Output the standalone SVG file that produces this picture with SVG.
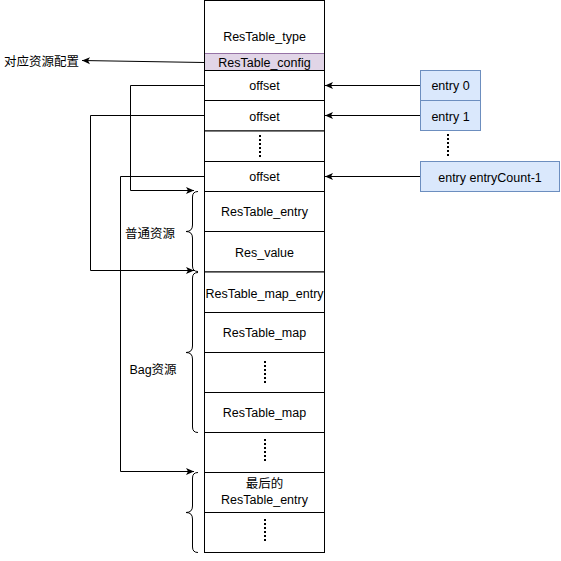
<svg xmlns="http://www.w3.org/2000/svg" width="561" height="561" viewBox="0 0 561 561">
<style>
text{font-family:"Liberation Sans","Noto Sans CJK SC",sans-serif;font-size:12.5px;fill:#000;}
.c{text-anchor:middle;dominant-baseline:central;}
.row{fill:#fff;stroke:#000;stroke-width:1;}
.cfg{fill:#e1d5e7;stroke:#9673a6;stroke-width:1;}
.ent{fill:#dae8fc;stroke:#6c8ebf;stroke-width:1;}
.dots{stroke:#000;stroke-width:2;stroke-dasharray:2 2;fill:none;}
.ln{stroke:#000;stroke-width:1;fill:none;}
.br{stroke:#000;stroke-width:1;fill:none;}
</style>
<defs>
<marker id="arr" markerWidth="10" markerHeight="10" refX="9" refY="5" orient="auto" markerUnits="userSpaceOnUse">
<path d="M1,1.5 L9,5 L1,8.5 L3,5 Z" fill="#000"/>
</marker>
</defs>
<rect width="561" height="561" fill="#fff"/>
<g id="col">
<g id="n-type"><rect class="row" x="204.5" y="0.5" width="120" height="53"/><text class="c" x="264.5" y="37">ResTable_type</text></g>
<g id="n-config"><rect class="cfg" x="204.5" y="53.5" width="120" height="17"/><line class="ln" x1="204.5" y1="53" x2="204.5" y2="71"/><line class="ln" x1="324.5" y1="53" x2="324.5" y2="71"/><text class="c" x="264.5" y="63">ResTable_config</text></g>
<g id="n-off0"><rect class="row" x="204.5" y="70.5" width="120" height="30"/><text class="c" x="264.5" y="86">offset</text></g>
<g id="n-off1"><rect class="row" x="204.5" y="100.5" width="120" height="30.5"/><text class="c" x="264.5" y="117">offset</text></g>
<g id="n-dots0"><rect class="row" x="204.5" y="131" width="120" height="30.5"/><line class="dots" x1="260" y1="135" x2="260" y2="157"/></g>
<g id="n-offn"><rect class="row" x="204.5" y="161.5" width="120" height="30"/><text class="c" x="264.5" y="177">offset</text></g>
<g id="n-entry"><rect class="row" x="204.5" y="191.5" width="120" height="40"/><text class="c" x="264.5" y="212">ResTable_entry</text></g>
<g id="n-value"><rect class="row" x="204.5" y="231.5" width="120" height="40.5"/><text class="c" x="264.5" y="253">Res_value</text></g>
<g id="n-mapentry"><rect class="row" x="204.5" y="272" width="120" height="40.5"/><text class="c" x="264.5" y="294">ResTable_map_entry</text></g>
<g id="n-map0"><rect class="row" x="204.5" y="312.5" width="120" height="40"/><text class="c" x="264.5" y="333">ResTable_map</text></g>
<g id="n-dots1"><rect class="row" x="204.5" y="352.5" width="120" height="40"/><line class="dots" x1="265" y1="361" x2="265" y2="383"/></g>
<g id="n-map1"><rect class="row" x="204.5" y="392.5" width="120" height="40"/><text class="c" x="264.5" y="413">ResTable_map</text></g>
<g id="n-dots2"><rect class="row" x="204.5" y="432.5" width="120" height="40"/><line class="dots" x1="265" y1="439" x2="265" y2="461"/></g>
<g id="n-last"><rect class="row" x="204.5" y="472.5" width="120" height="40"/><text class="c" x="264.5" y="484">最后的</text><text class="c" x="264.5" y="500">ResTable_entry</text></g>
<g id="n-dots3"><rect class="row" x="204.5" y="512.5" width="120" height="40"/><line class="dots" x1="265" y1="519" x2="265" y2="541"/></g>
</g>
<g id="n-e0"><rect class="ent" x="420.5" y="70.5" width="60" height="30"/><text class="c" x="450.5" y="86">entry 0</text></g>
<g id="n-e1"><rect class="ent" x="420.5" y="100.5" width="60" height="30"/><text class="c" x="450.5" y="117">entry 1</text></g>
<line id="n-edots" class="dots" x1="448" y1="134" x2="448" y2="156"/>
<g id="n-en"><rect class="ent" x="420.5" y="161.5" width="139" height="30"/><text class="c" x="490" y="178">entry entryCount-1</text></g>
<g id="lbl">
<text x="4" y="66">对应资源配置</text>
<text class="c" x="150" y="234">普通资源</text>
<text class="c" x="153" y="370">Bag资源</text>
</g>
<g id="braces">
<path class="br" d="M198,191.5 Q192.5,191.5 192.5,197 V225 Q192.5,231.5 186,231.5 Q192.5,231.5 192.5,238 V266 Q192.5,271.5 198,271.5"/>
<path class="br" d="M198,272.5 Q192.5,272.5 192.5,278 V346 Q192.5,352.5 186,352.5 Q192.5,352.5 192.5,359 V427 Q192.5,432.5 198,432.5"/>
<path class="br" d="M198,472.5 Q192.5,472.5 192.5,478 V506 Q192.5,512.5 186,512.5 Q192.5,512.5 192.5,519 V547 Q192.5,552.5 198,552.5"/>
</g>
<g id="connectors">
<path class="ln" d="M204,62.5 L82,60.5" marker-end="url(#arr)"/>
<path class="ln" d="M420,85.5 H325" marker-end="url(#arr)"/>
<path class="ln" d="M420,115.5 H325" marker-end="url(#arr)"/>
<path class="ln" d="M420,176.5 H325" marker-end="url(#arr)"/>
<path class="ln" d="M204,85.5 H130.5 V190.5 H194" marker-end="url(#arr)"/>
<path class="ln" d="M204,115.5 H90.5 V270.5 H194" marker-end="url(#arr)"/>
<path class="ln" d="M204,176.5 H120.5 V471.5 H194" marker-end="url(#arr)"/>
</g>
</svg>
